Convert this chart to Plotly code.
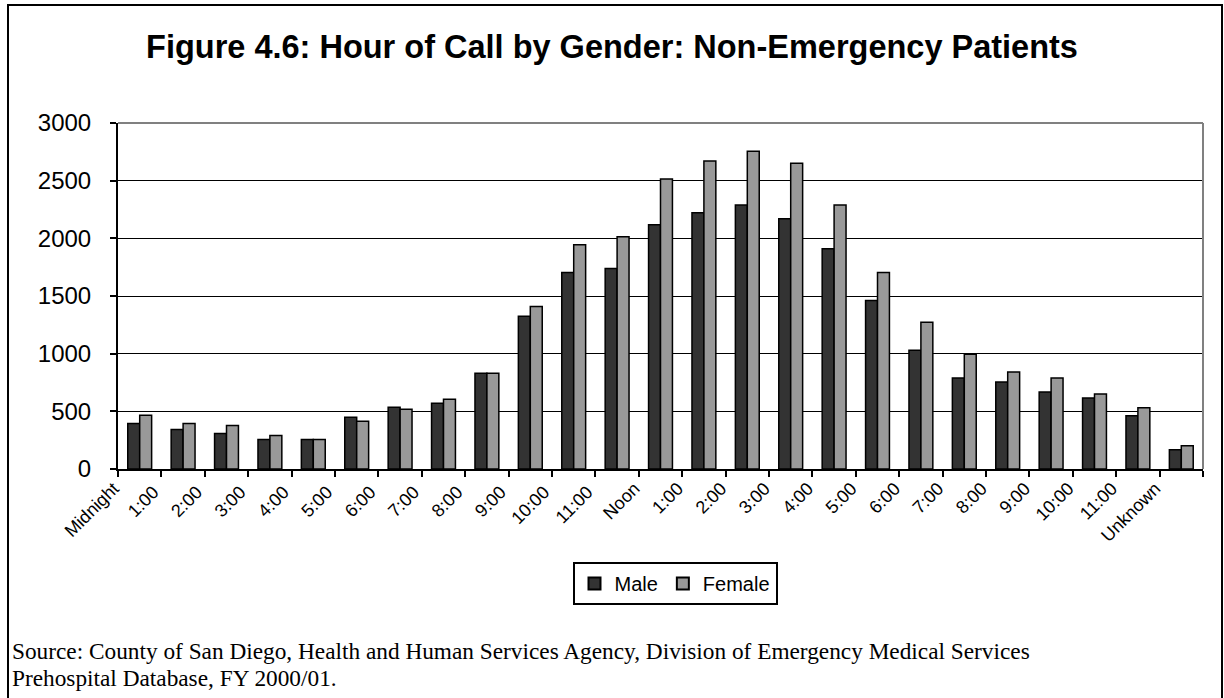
import plotly.graph_objects as go

# Hour of call categories
hours = ["Midnight", "1:00 ", "2:00 ", "3:00 ", "4:00 ", "5:00 ", "6:00 ", "7:00 ",
         "8:00 ", "9:00 ", "10:00 ", "11:00 ", "Noon", "1:00", "2:00", "3:00",
         "4:00", "5:00", "6:00", "7:00", "8:00", "9:00", "10:00", "11:00", "Unknown"]

male = [395, 343, 308, 256, 256, 448, 535, 570, 831, 1324, 1703, 1738, 2117,
        2221, 2290, 2169, 1910, 1462, 1030, 789, 754, 668, 616, 461, 167]
female = [465, 395, 378, 291, 256, 413, 517, 604, 831, 1410, 1945, 2014, 2514,
          2670, 2756, 2652, 2290, 1703, 1272, 996, 840, 789, 650, 530, 202]

W, H = 1224, 698
L, R, T, B = 118, 1203, 123, 469  # plot area in pixels


def px(x):
    return (x - L) / (R - L)


def py(y):
    return (B - y) / (B - T)


fig = go.Figure()
fig.add_trace(go.Bar(x=hours, y=male, name="Male",
                     marker=dict(color="#333333", line=dict(color="black", width=1.5))))
fig.add_trace(go.Bar(x=hours, y=female, name="Female",
                     marker=dict(color="#999999", line=dict(color="black", width=1.5))))

fig.update_layout(
    width=W, height=H,
    margin=dict(l=L, r=W - R, t=T, b=H - B),
    paper_bgcolor="white", plot_bgcolor="white",
    barmode="group", bargap=0.45, bargroupgap=0,
    font=dict(family="Arial, Liberation Sans, sans-serif", color="black"),
    title=dict(text="<b>Figure 4.6: Hour of Call by Gender: Non-Emergency Patients</b>",
               x=0.5, xanchor="center", y=1 - 47 / H, yanchor="middle",
               font=dict(size=32.5, color="black")),
    legend=dict(orientation="h", x=px(675), xanchor="center", y=py(562), yanchor="top",
                bordercolor="black", borderwidth=2, font=dict(size=20),
                itemsizing="constant"),
    showlegend=True,
)

fig.update_xaxes(showline=True, linecolor="black", linewidth=2,
                 ticks="outside", tickson="boundaries", ticklen=6, tickwidth=2,
                 tickcolor="black", tickangle=-45, tickfont=dict(size=18),
                 ticklabelstandoff=0, ticklabelshift=-26, showgrid=False)
fig.update_yaxes(range=[0, 3000], dtick=500, showline=True, linecolor="black",
                 linewidth=2, ticks="outside", ticklen=6, tickwidth=2,
                 tickcolor="black", tickfont=dict(size=24), ticklabelstandoff=14,
                 showgrid=True, gridcolor="black", gridwidth=1, zeroline=False)

# gray plot border on top and right
fig.add_shape(type="line", xref="paper", yref="paper", x0=0, x1=1, y0=1, y1=1,
              line=dict(color="#808080", width=2))
fig.add_shape(type="line", xref="paper", yref="paper", x0=1, x1=1, y0=0, y1=1,
              line=dict(color="#808080", width=2))
# outer frame
fig.add_shape(type="rect", xref="paper", yref="paper",
              x0=px(8), x1=px(1222), y0=py(740), y1=py(5),
              line=dict(color="black", width=2), fillcolor="rgba(0,0,0,0)")

src = ["Source: County of San Diego, Health and Human Services Agency, Division of Emergency Medical Services",
       "Prehospital Database, FY 2000/01."]
for i, line in enumerate(src):
    fig.add_annotation(text=line, xref="paper", yref="paper", x=px(10), y=py(651 + 27 * i),
                       xanchor="left", yanchor="middle", showarrow=False,
                       font=dict(family="Liberation Serif, Times New Roman, serif", size=23.3,
                                 color="black"))

fig.write_html("out.html", config={"displayModeBar": False},
               post_script="document.body.style.margin='0';")
